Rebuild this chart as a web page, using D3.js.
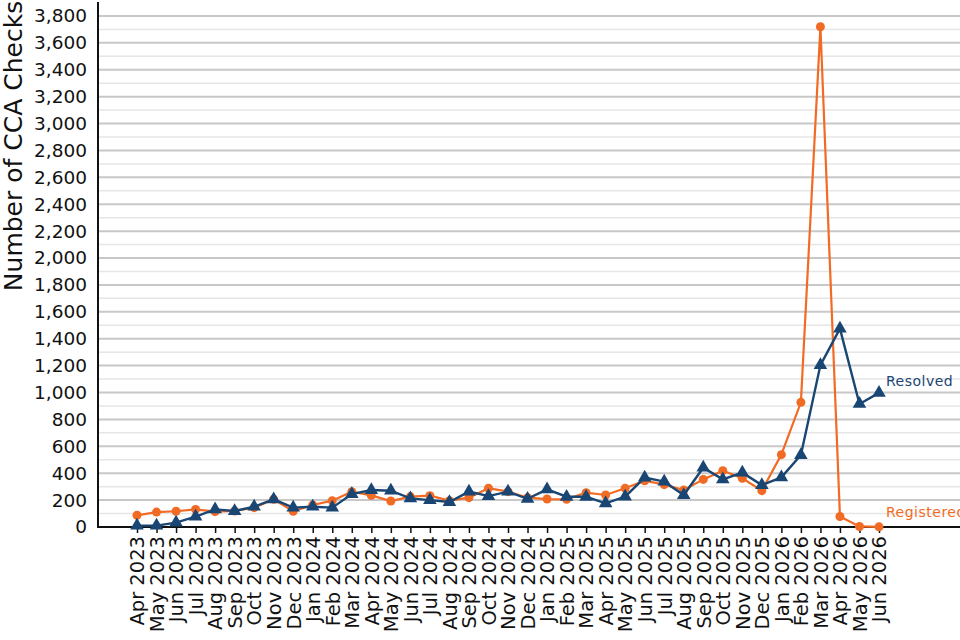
<!DOCTYPE html>
<html>
<head>
<meta charset="utf-8">
<script src="https://cdn.jsdelivr.net/npm/d3@7"></script>
<style>
  html, body { margin: 0; padding: 0; background: #fff; }
  svg { display: block; font-family: "DejaVu Sans", sans-serif; }
</style>
</head>
<body>
<svg id="chart" width="960" height="640"></svg>
<script>
const months = [
  "Apr 2023","May 2023","Jun 2023","Jul 2023","Aug 2023","Sep 2023","Oct 2023","Nov 2023","Dec 2023",
  "Jan 2024","Feb 2024","Mar 2024","Apr 2024","May 2024","Jun 2024","Jul 2024","Aug 2024","Sep 2024","Oct 2024","Nov 2024","Dec 2024",
  "Jan 2025","Feb 2025","Mar 2025","Apr 2025","May 2025","Jun 2025","Jul 2025","Aug 2025","Sep 2025","Oct 2025","Nov 2025","Dec 2025",
  "Jan 2026","Feb 2026","Mar 2026","Apr 2026","May 2026","Jun 2026"
];
const registered = [
  87, 111, 117, 131, 114, 119, 144, 206, 117,
  164, 196, 263, 235, 193, 226, 233, 196, 218, 288, 263, 218,
  208, 206, 255, 238, 288, 344, 315, 275, 354, 419, 362, 270,
  538, 927, 3720, 78, 4, 1
];
const resolved = [
  10, 10, 32, 77, 131, 119, 151, 206, 144,
  151, 144, 245, 275, 270, 213, 200, 186, 263, 230, 263, 210,
  280, 225, 225, 176, 226, 367, 337, 238, 441, 354, 404, 312,
  369, 535, 1204, 1475, 915, 997
];
const yTicks = d3.range(0, 3801, 200);
const yMinor = d3.range(100, 3900, 200);
const seriesNames = ["Registered", "Resolved"];
const seriesColors = ["#f26b24", "#1a4674"];

const svg = d3.select("#chart");
const x0 = 98, yBase = 527, xEnd = 960;

const x = d3.scalePoint().domain(months).range([137, 879]);
const y = d3.scaleLinear().domain([0, 3900]).range([yBase, 2.5]);

// gridlines
svg.append("g").selectAll("line.minor").data(yMinor).join("line")
  .attr("x1", x0).attr("x2", xEnd)
  .attr("y1", d => y(d)).attr("y2", d => y(d))
  .attr("stroke", "#e6e6e6").attr("stroke-width", 1.5);
svg.append("g").selectAll("line.major").data(yTicks.filter(d => d > 0)).join("line")
  .attr("x1", x0).attr("x2", xEnd)
  .attr("y1", d => y(d)).attr("y2", d => y(d))
  .attr("stroke", "#c8c8c8").attr("stroke-width", 2);

// y axis
const yAxis = svg.append("g").attr("transform", `translate(${x0},0)`)
  .call(d3.axisLeft(y).tickValues(yTicks).tickSize(0).tickPadding(11).tickFormat(d3.format(",")));
yAxis.select(".domain").remove();
yAxis.selectAll("text").attr("font-size", 18.5).attr("fill", "#111").attr("font-family", "DejaVu Sans");
svg.append("line").attr("x1", x0).attr("x2", x0).attr("y1", 2).attr("y2", yBase + 1)
  .attr("stroke", "#111").attr("stroke-width", 2);

// x axis
const xAxis = svg.append("g").attr("transform", `translate(0,${yBase})`)
  .call(d3.axisBottom(x).tickSize(6).tickPadding(8));
xAxis.select(".domain").remove();
xAxis.selectAll(".tick line").attr("stroke", "#111").attr("stroke-width", 1.5);
xAxis.selectAll("text")
  .attr("font-size", 19.5).attr("fill", "#111").attr("font-family", "DejaVu Sans")
  .attr("transform", "rotate(-90)")
  .attr("text-anchor", "end")
  .attr("x", -9).attr("y", 0).attr("dy", "0.35em");
svg.append("line").attr("x1", x0 - 1).attr("x2", xEnd).attr("y1", yBase).attr("y2", yBase)
  .attr("stroke", "#111").attr("stroke-width", 2);

// y title
svg.append("text")
  .attr("transform", "translate(22,146) rotate(-90)")
  .attr("text-anchor", "middle")
  .attr("font-size", 25).attr("fill", "#111")
  .text("Number of CCA Checks");

const line = d3.line().x((d, i) => x(months[i])).y(d => y(d));

// Registered
svg.append("path").datum(registered).attr("d", line)
  .attr("fill", "none").attr("stroke", seriesColors[0]).attr("stroke-width", 2.2);
svg.append("g").selectAll("circle").data(registered).join("circle")
  .attr("cx", (d, i) => x(months[i])).attr("cy", d => y(d)).attr("r", 4.5)
  .attr("fill", seriesColors[0]);

// Resolved
svg.append("path").datum(resolved).attr("d", line)
  .attr("fill", "none").attr("stroke", seriesColors[1]).attr("stroke-width", 2.4);
const tri = d3.symbol().type(d3.symbolTriangle).size(80);
svg.append("g").selectAll("path").data(resolved).join("path")
  .attr("d", tri)
  .attr("transform", (d, i) => `translate(${x(months[i])},${y(d)})`)
  .attr("fill", seriesColors[1]);

// end labels
const last = months.length - 1;
svg.append("text").attr("x", x(months[last]) + 7).attr("y", y(resolved[last]) - 7)
  .attr("font-size", 14).attr("fill", seriesColors[1]).attr("letter-spacing", 0.5).text(seriesNames[1]);
svg.append("text").attr("x", x(months[last]) + 7).attr("y", y(registered[last]) - 10)
  .attr("font-size", 14).attr("fill", seriesColors[0]).attr("letter-spacing", 0.5).text(seriesNames[0]);
</script>
</body>
</html>
